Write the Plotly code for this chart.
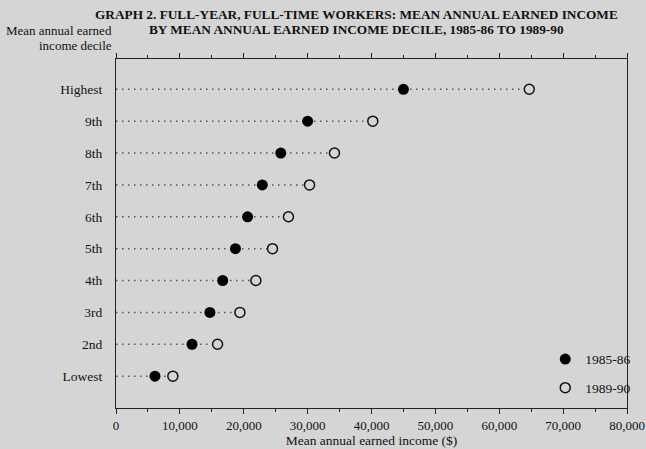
import plotly.graph_objects as go

deciles = ["Lowest", "2nd", "3rd", "4th", "5th", "6th", "7th", "8th", "9th", "Highest"]
income_1985 = [6100, 11900, 14700, 16700, 18700, 20600, 22900, 25800, 30000, 45000]
income_1989 = [8900, 15900, 19400, 21900, 24500, 27000, 30300, 34200, 40200, 64700]
x_ticks = [0, 10000, 20000, 30000, 40000, 50000, 60000, 70000, 80000]
x_tick_labels = ["0", "10,000", "20,000", "30,000", "40,000", "50,000", "60,000", "70,000", "80,000"]
title_lines = ["GRAPH 2. FULL-YEAR, FULL-TIME WORKERS: MEAN ANNUAL EARNED INCOME",
               "BY MEAN ANNUAL EARNED INCOME DECILE, 1985-86 TO 1989-90"]
ylabel_lines = ["Mean annual earned", "income decile"]

BG = "#d5d5d5"
FONT = "Liberation Serif"
FS = 13.5

idx = list(range(len(deciles)))

lx, ly = [], []
for i, v in zip(idx, income_1989):
    lx += [0, v, None]
    ly += [i, i, None]

fig = go.Figure()
fig.add_trace(go.Scatter(
    x=lx, y=ly, mode="lines", showlegend=False, hoverinfo="skip",
    line=dict(color="#555555", width=1.5, dash="1.5px,4.5px"),
))
fig.add_trace(go.Scatter(
    x=income_1985, y=idx, mode="markers", name="1985-86", legendgroup="a",
    marker=dict(symbol="circle", size=11, color="#000000", line=dict(width=0)),
))
fig.add_trace(go.Scatter(
    x=income_1989, y=idx, mode="markers", name="1989-90", legendgroup="b",
    marker=dict(symbol="circle", size=10, color=BG, line=dict(width=1.5, color="#111111")),
))

W, H = 646, 449
T, B, L, R = 59, 41, 116, 19
ph = H - T - B
pw = W - L - R


def px_x(page_x):
    return (page_x - L) / pw


def px_y(page_y):
    return 1 + (T - page_y) / ph


annotations = []
for line, yc in zip(title_lines, [14, 30]):
    annotations.append(dict(
        text="<b>" + line + "</b>", xref="paper", yref="paper", x=px_x(356), y=px_y(yc),
        xanchor="center", yanchor="middle", showarrow=False,
        font=dict(family=FONT, size=13.3, color="#111111")))
for line, yc in zip(ylabel_lines, [31, 45]):
    annotations.append(dict(
        text=line, xref="paper", yref="paper", x=px_x(114), y=px_y(yc),
        xanchor="right", yanchor="middle", showarrow=False,
        font=dict(family=FONT, size=13, color="#111111")))

fig.update_layout(
    width=W, height=H,
    paper_bgcolor=BG, plot_bgcolor=BG,
    margin=dict(l=L, r=R, t=T, b=B, autoexpand=False),
    font=dict(family=FONT, size=FS, color="#111111"),
    xaxis=dict(
        range=[0, 80000], tickvals=x_ticks, ticktext=x_tick_labels,
        showgrid=False, zeroline=False, showline=True, linecolor="#222222", linewidth=1.2,
        mirror="ticks", ticks="outside", ticklen=5, tickcolor="#222222",
        minor=dict(dtick=5000, ticks="outside", ticklen=3, tickcolor="#222222"),
        tickfont=dict(family=FONT, size=13), automargin=False, ticklabeloverflow="allow",
        title=dict(text="Mean annual earned income ($)", font=dict(family=FONT, size=FS), standoff=2),
    ),
    yaxis=dict(
        range=[-1.0, 9.95], tickvals=idx, ticktext=deciles,
        showgrid=False, zeroline=False, showline=True, linecolor="#222222", linewidth=1.2,
        mirror=True, ticks="", ticklabelstandoff=10, automargin=False,
        tickfont=dict(family=FONT, size=FS),
    ),
    legend=dict(
        x=0.84, y=0.012, xanchor="left", yanchor="bottom",
        bgcolor="rgba(0,0,0,0)", font=dict(family=FONT, size=FS),
        tracegroupgap=8,
    ),
    annotations=annotations,
)

fig.write_html(
    "out.html",
    config={"displayModeBar": False},
    post_script="document.body.style.margin='0';document.body.style.overflow='hidden';",
)
